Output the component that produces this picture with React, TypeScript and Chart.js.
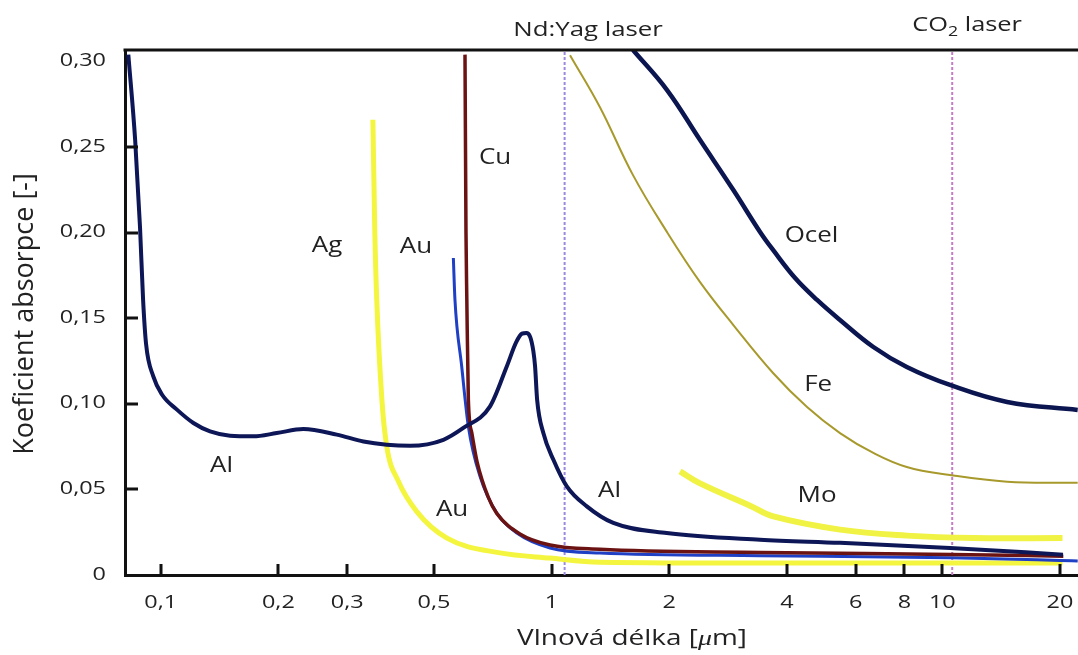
import { useEffect, useRef } from 'react';
import { Chart, registerables } from 'chart.js';

Chart.register(...registerables);

// ---- axis ticks ----
const X_TICKS = [0.1, 0.2, 0.3, 0.5, 1, 2, 4, 6, 8, 10, 20];
const X_TICK_LABELS = ['0,1', '0,2', '0,3', '0,5', '1', '2', '4', '6', '8', '10', '20'];
const Y_TICKS = [0, 0.05, 0.1, 0.15, 0.2, 0.25, 0.3];
const Y_TICK_LABELS = ['0', '0,05', '0,10', '0,15', '0,20', '0,25', '0,30'];

// ---- series: [wavelength µm, absorption] ----
const AL = [
  [0.0826, 0.304], [0.086, 0.254], [0.0885, 0.203], [0.0901, 0.161], [0.0917, 0.135],
  [0.0957, 0.116], [0.1008, 0.1053], [0.11, 0.0966], [0.1212, 0.0888], [0.1337, 0.0839],
  [0.1504, 0.0814], [0.1726, 0.081], [0.198, 0.0829], [0.2317, 0.0853], [0.282, 0.082],
  [0.33, 0.078], [0.3788, 0.0761], [0.4345, 0.0755], [0.5287, 0.079], [0.5947, 0.0859],
  [0.696, 0.0985], [0.768, 0.1218], [0.812, 0.136], [0.84, 0.141], [0.862, 0.1414],
  [0.882, 0.139], [0.898, 0.131], [0.9075, 0.1218], [0.9185, 0.1024], [0.9528, 0.0829],
  [1.011, 0.0673], [1.094, 0.0518], [1.231, 0.0401], [1.439, 0.0304], [1.971, 0.0245],
  [3.416, 0.0206], [5.47, 0.0188], [10.46, 0.0158], [20.36, 0.0119],
];
const AG = [
  [0.349, 0.266], [0.353, 0.2], [0.357, 0.161], [0.368, 0.1024], [0.3787, 0.0751],
  [0.405, 0.055], [0.452, 0.037], [0.54, 0.0215], [0.738, 0.0129], [0.991, 0.0099],
  [1.33, 0.0075], [3.42, 0.007], [20.3, 0.007],
];
const AU = [
  [0.5607, 0.1852], [0.566, 0.1608], [0.589, 0.1218], [0.6125, 0.0868], [0.656, 0.0576],
  [0.724, 0.0362], [0.815, 0.0245], [0.991, 0.0158], [1.33, 0.0128], [3.42, 0.0113],
  [10.5, 0.0101], [20.0, 0.0085], [22.2, 0.0082],
];
const CU = [
  [0.6005, 0.304], [0.604, 0.2], [0.607, 0.161], [0.6125, 0.1024], [0.625, 0.0831],
  [0.645, 0.066], [0.69, 0.045], [0.724, 0.036], [0.83, 0.024], [0.991, 0.0175],
  [1.33, 0.015], [3.42, 0.0132], [10.5, 0.012], [20.4, 0.011],
];
const OCEL = [
  [1.616, 0.3067], [1.975, 0.2833], [2.399, 0.2541], [2.919, 0.2249], [3.416, 0.2004],
  [3.688, 0.1899], [4.2, 0.1735], [4.78, 0.1607], [5.472, 0.149], [6.66, 0.1332],
  [8.11, 0.1215], [10.46, 0.111], [14.65, 0.1011], [22.2, 0.0964],
];
const FE = [
  [1.115, 0.3037], [1.33, 0.2733], [1.616, 0.2336], [1.975, 0.2003], [2.399, 0.1711],
  [2.919, 0.146], [3.688, 0.118], [4.506, 0.0981], [5.472, 0.0829], [6.66, 0.0713],
  [8.11, 0.0631], [10.46, 0.0584], [14.65, 0.0545], [22.2, 0.0539],
];
const MO = [
  [2.132, 0.0605], [2.399, 0.0535], [3.22, 0.0405], [3.694, 0.0342], [5.472, 0.0265],
  [8.11, 0.023], [12.0, 0.0216], [20.3, 0.0216],
];

// laser wavelengths
const ND_YAG_WL = 1.08;
const CO2_WL = 10.6;

// axis range
const X_MIN = 0.081;
const X_MAX = 22.24;
const Y_MIN = 0;
const Y_MAX = 0.3067;

// curve labels, in data coordinates (centre x, baseline y)
const CURVE_LABELS = [
  { text: 'Cu', x: 0.717, y: 0.2402 },
  { text: 'Ag', x: 0.2665, y: 0.1888 },
  { text: 'Au', x: 0.45, y: 0.1883 },
  { text: 'Al', x: 0.1431, y: 0.0603 },
  { text: 'Au', x: 0.5565, y: 0.0346 },
  { text: 'Al', x: 1.407, y: 0.0457 },
  { text: 'Ocel', x: 4.627, y: 0.1947 },
  { text: 'Fe', x: 4.81, y: 0.1073 },
  { text: 'Mo', x: 4.78, y: 0.0428 },
];

const TEXT_COLOR = '#222222';
const FONT = '"Open Sans", "Noto Sans", sans-serif';

type Seg = { t: string; font: string; dy?: number };

function drawSegs(ctx: CanvasRenderingContext2D, segs: Seg[], x: number, y: number, align: string, sx: number) {
  ctx.save();
  let w = 0;
  for (const s of segs) {
    ctx.font = s.font;
    w += ctx.measureText(s.t).width;
  }
  const start = align === 'center' ? x - (w * sx) / 2 : align === 'right' ? x - w * sx : x;
  ctx.translate(start, y);
  ctx.scale(sx, 1);
  ctx.textAlign = 'left';
  ctx.textBaseline = 'alphabetic';
  ctx.fillStyle = TEXT_COLOR;
  let cx = 0;
  for (const s of segs) {
    ctx.font = s.font;
    ctx.fillText(s.t, cx, s.dy || 0);
    cx += ctx.measureText(s.t).width;
  }
  ctx.restore();
}

const decorPlugin = {
  id: 'decor',
  afterDraw(chart: any) {
    const ctx: CanvasRenderingContext2D = chart.ctx;
    const xs = chart.scales.x;
    const ys = chart.scales.y;
    const area = chart.chartArea;

    ctx.save();
    ctx.fillStyle = '#111';
    // top frame line
    ctx.fillRect(area.left - 1.5, area.top - 1.5, area.right - area.left + 1.5, 3);
    // inward tick marks
    X_TICKS.forEach((v) => {
      const px = Math.round(xs.getPixelForValue(v));
      ctx.fillRect(px - 1.5, area.bottom - 11, 3, 11);
    });
    Y_TICKS.forEach((v) => {
      if (v <= 0 || v >= 0.3) return;
      const py = Math.round(ys.getPixelForValue(v));
      ctx.fillRect(area.left, py - 1.5, 13, 3);
    });
    ctx.restore();

    // tick labels
    const tickFont = `18px ${FONT}`;
    Y_TICKS.forEach((v, i) => {
      const py = ys.getPixelForValue(v);
      drawSegs(ctx, [{ t: Y_TICK_LABELS[i], font: tickFont }], 106, py + 4.5, 'right', 1.3);
    });
    X_TICKS.forEach((v, i) => {
      const px = xs.getPixelForValue(v);
      drawSegs(ctx, [{ t: X_TICK_LABELS[i], font: tickFont }], px, 608, 'center', 1.3);
    });

    // axis titles
    drawSegs(
      ctx,
      [
        { t: 'Vlnová délka [', font: `21px ${FONT}` },
        { t: 'μ', font: `italic 21px "Liberation Serif", serif` },
        { t: 'm]', font: `21px ${FONT}` },
      ],
      632, 645, 'center', 1.33
    );
    ctx.save();
    ctx.translate(33, 314);
    ctx.rotate(-Math.PI / 2);
    ctx.font = `27px ${FONT}`;
    ctx.fillStyle = TEXT_COLOR;
    ctx.textAlign = 'center';
    ctx.textBaseline = 'alphabetic';
    ctx.fillText('Koeficient absorpce [-]', 0, 0);
    ctx.restore();

    // laser labels
    drawSegs(ctx, [{ t: 'Nd:Yag laser', font: `20px ${FONT}` }],
      xs.getPixelForValue(1.24), ys.getPixelForValue(0.3148), 'center', 1.29);
    drawSegs(
      ctx,
      [
        { t: 'CO', font: `20px ${FONT}` },
        { t: '2', font: `14px ${FONT}`, dy: 5 },
        { t: ' laser', font: `20px ${FONT}` },
      ],
      xs.getPixelForValue(11.57), ys.getPixelForValue(0.3178), 'center', 1.27
    );

    // curve labels
    CURVE_LABELS.forEach((l) => {
      drawSegs(ctx, [{ t: l.text, font: `22px ${FONT}` }],
        xs.getPixelForValue(l.x), ys.getPixelForValue(l.y), 'center', 1.18);
    });
  },
};

function toXY(pts: number[][]) {
  return pts.map(([x, y]) => ({ x, y }));
}

function curve(label: string, pts: number[][], color: string, width: number, smooth: string) {
  const base: any = {
    label,
    data: toXY(pts),
    borderColor: color,
    backgroundColor: color,
    borderWidth: width,
    pointRadius: 0,
    pointHoverRadius: 0,
    fill: false,
    borderCapStyle: 'butt',
    borderJoinStyle: 'round',
  };
  if (smooth === 'monotone') base.cubicInterpolationMode = 'monotone';
  else base.tension = 0.4;
  return base;
}

function laser(label: string, wl: number, color: string) {
  return {
    label,
    data: [{ x: wl, y: Y_MIN }, { x: wl, y: Y_MAX }],
    borderColor: color,
    backgroundColor: color,
    borderWidth: 2,
    borderDash: [3, 2],
    pointRadius: 0,
    fill: false,
    tension: 0,
  };
}

export default function App() {
  const ref = useRef<HTMLCanvasElement | null>(null);

  useEffect(() => {
    document.body.style.margin = '0';
    const canvas = ref.current;
    if (!canvas) return;
    const chart = new Chart(canvas, {
      type: 'line',
      data: {
        datasets: [
          curve('Al', AL, '#0d1656', 4, 'monotone'),
          curve('Ocel', OCEL, '#0b1550', 4.5, 'bezier'),
          curve('Cu', CU, '#6b1212', 3.5, 'monotone'),
          curve('Au', AU, '#1f3fc4', 3, 'monotone'),
          curve('Fe', FE, '#a8992c', 2, 'bezier'),
          curve('Ag', AG, '#f4f53e', 5, 'monotone'),
          curve('Mo', MO, '#f0f244', 6, 'bezier'),
          laser('Nd:Yag laser', ND_YAG_WL, '#9d88e0'),
          laser('CO2 laser', CO2_WL, '#c47cc4'),
        ] as any,
      },
      options: {
        animation: false,
        responsive: false,
        devicePixelRatio: 1,
        events: [],
        layout: { padding: { top: 50, left: 0, right: 0, bottom: 0 } },
        plugins: { legend: { display: false }, tooltip: { enabled: false } },
        scales: {
          x: {
            type: 'logarithmic',
            min: X_MIN,
            max: X_MAX,
            grid: { display: false },
            border: { display: true, color: '#111', width: 3 },
            ticks: { display: false },
            afterBuildTicks: (s: any) => {
              s.ticks = X_TICKS.map((v) => ({ value: v }));
            },
            afterFit: (s: any) => {
              s.height = 80;
            },
          },
          y: {
            type: 'linear',
            min: Y_MIN,
            max: Y_MAX,
            grid: { display: false },
            border: { display: true, color: '#111', width: 3 },
            ticks: { display: false },
            afterBuildTicks: (s: any) => {
              s.ticks = Y_TICKS.map((v) => ({ value: v }));
            },
            afterFit: (s: any) => {
              s.width = 125;
            },
          },
        },
      } as any,
      plugins: [decorPlugin],
    });
    return () => chart.destroy();
  }, []);

  return (
    <div style={{ width: 1078, height: 655, background: '#fff' }}>
      <canvas ref={ref} width={1078} height={655} style={{ display: 'block' }} />
    </div>
  );
}
